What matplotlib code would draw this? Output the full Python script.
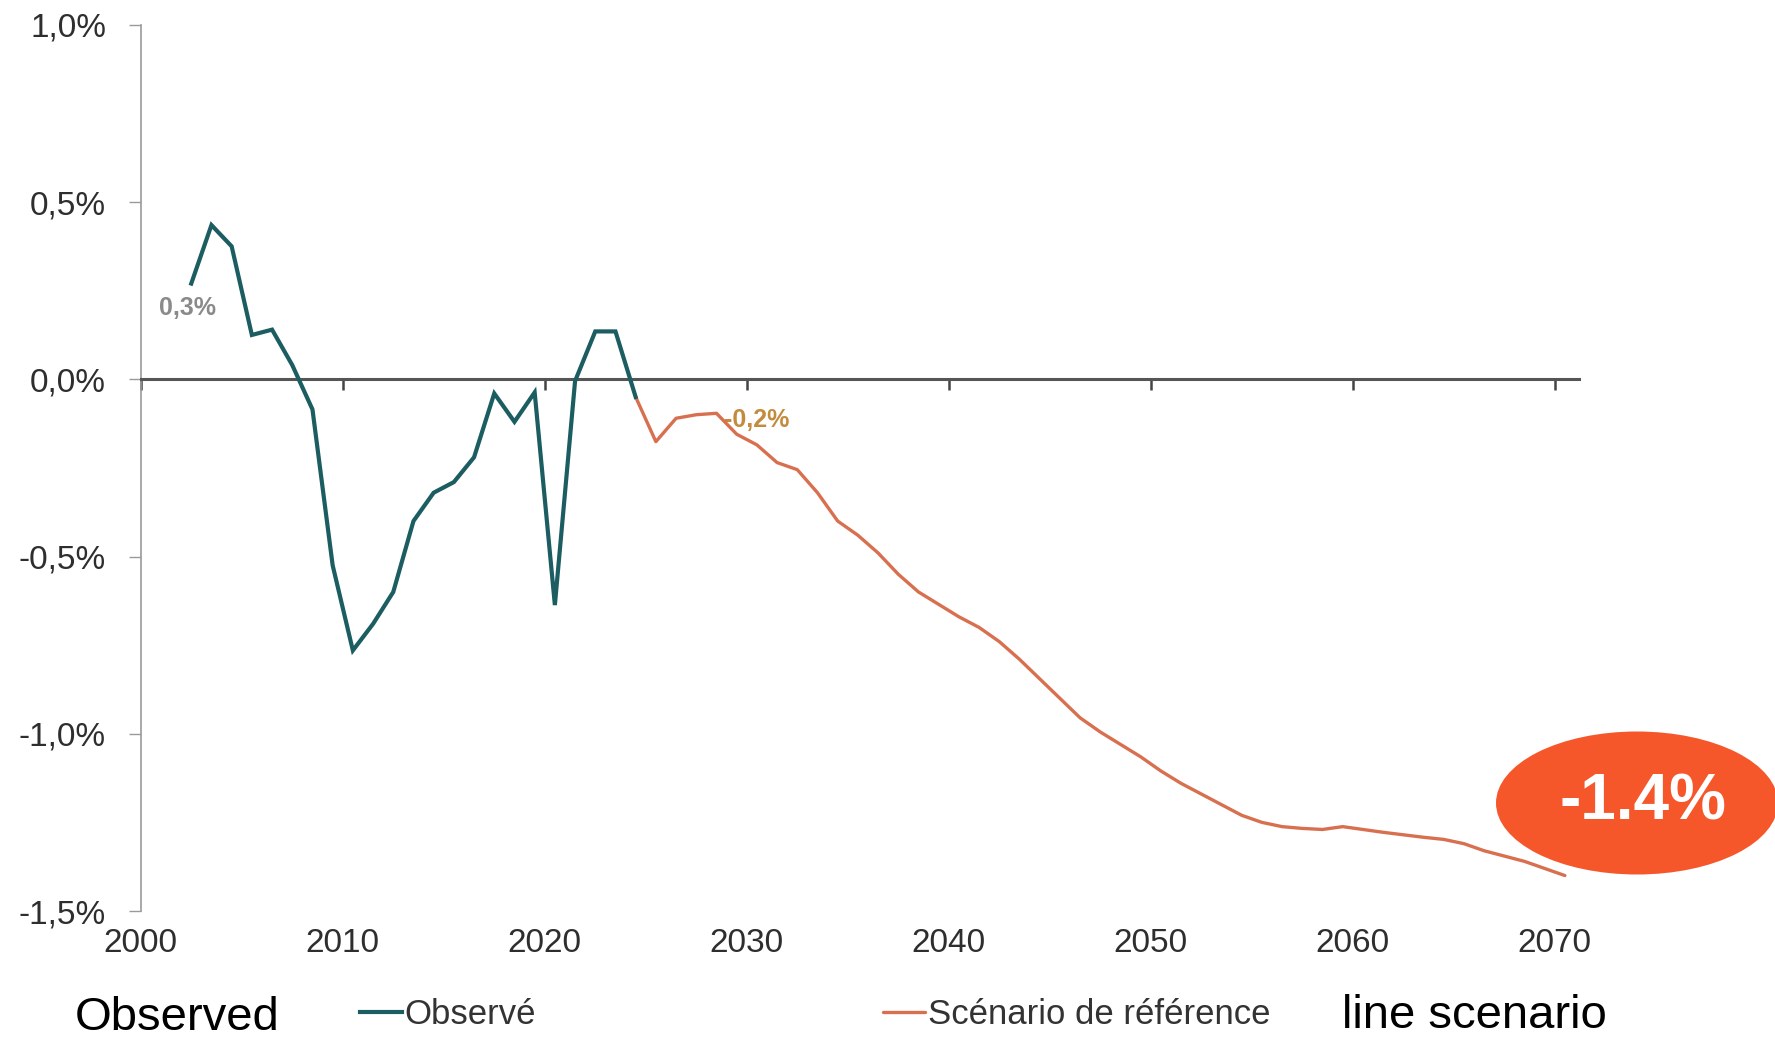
import numpy as np
import matplotlib
matplotlib.use('Agg')
import matplotlib.pyplot as plt
from matplotlib.patches import Ellipse

plt.rcParams['font.family'] = ['Liberation Sans', 'DejaVu Sans']

# observed series (annual change, %), points sit at mid-year
obs_years = np.arange(2002, 2025)
obs_values = [0.27, 0.435, 0.375, 0.125, 0.14, 0.04, -0.085, -0.525, -0.765, -0.69,
              -0.60, -0.40, -0.32, -0.29, -0.22, -0.04, -0.12, -0.037, -0.637, -0.005,
              0.135, 0.135, -0.05]

# reference scenario
ref_years = np.arange(2024, 2071)
ref_values = [-0.05, -0.176, -0.11, -0.10, -0.096, -0.155, -0.185, -0.235, -0.255, -0.32,
              -0.40, -0.44, -0.49, -0.55, -0.60, -0.635, -0.67, -0.70, -0.74, -0.79,
              -0.845, -0.90, -0.955, -0.995, -1.03, -1.065, -1.105, -1.14, -1.17, -1.20,
              -1.23, -1.25, -1.262, -1.267, -1.27, -1.262, -1.27, -1.278, -1.285, -1.292,
              -1.298, -1.31, -1.33, -1.345, -1.36, -1.38, -1.40]

x_ticks = [2000, 2010, 2020, 2030, 2040, 2050, 2060, 2070]
y_ticks = [1.0, 0.5, 0.0, -0.5, -1.0, -1.5]
y_labels = ['1,0%', '0,5%', '0,0%', '-0,5%', '-1,0%', '-1,5%']

teal = '#1b5d61'
orange = '#d8704f'

fig = plt.figure(figsize=(17.75, 10.37), dpi=100)
ax = fig.add_axes([0.0793, 0.1215, 0.8103, 0.8546])

ax.plot(ref_years + 0.5, ref_values, color=orange, lw=2.4, solid_capstyle='round',
        label='Scénario de référence', zorder=3)
ax.plot(obs_years + 0.5, obs_values, color=teal, lw=3.0, solid_joinstyle='miter',
        label='Observé', zorder=4)

ax.set_xlim(2000, 2071.2)
ax.set_ylim(-1.5, 1.0)

# zero line carries the year ticks, labels sit at the bottom
ax.spines['top'].set_visible(False)
ax.spines['right'].set_visible(False)
ax.spines['bottom'].set_position(('data', 0))
ax.spines['bottom'].set_color('#555555')
ax.spines['bottom'].set_linewidth(2.2)
ax.spines['left'].set_color('#9a9a9a')
ax.spines['left'].set_linewidth(1.2)
ax.set_xticks(x_ticks)
ax.tick_params(axis='x', direction='out', length=8, width=1.8, color='#444444',
               labelbottom=False)
ax.set_yticks(y_ticks)
ax.set_yticklabels(y_labels)
ax.tick_params(axis='y', direction='out', length=9, width=1.0, color='#9a9a9a',
               pad=16, labelsize=24, labelcolor='#2e2e2e')

sec = ax.secondary_xaxis('bottom')
sec.set_xticks(x_ticks)
sec.set_xticklabels([str(t) for t in x_ticks])
sec.spines['bottom'].set_visible(False)
sec.tick_params(length=0, pad=12, labelsize=24, labelcolor='#2e2e2e')

# point labels
ax.text(2002.3, 0.20, '0,3%', ha='center', va='center',
        fontsize=18, fontweight='bold', color='#8a8a8a')
ax.text(2030.5, -0.114, '-0,2%', ha='center', va='center',
        fontsize=18, fontweight='bold', color='#c38b3e', zorder=2)

# legend
fig.legend(handles=ax.lines[::-1], loc='center left', bbox_to_anchor=(0.203, 0.022),
           ncol=2, frameon=False, fontsize=25, handlelength=1.2, handletextpad=0.08,
           columnspacing=10.0, borderpad=0, borderaxespad=0, labelcolor='#333333')

# side captions
fig.text(75 / 1775, 0.007, 'Observed', fontsize=34, color='black', ha='left',
         va='baseline')
fig.text(1342 / 1775, 0.009, 'line scenario', fontsize=34, color='black', ha='left',
         va='baseline')

# highlight bubble
bubble = Ellipse((1637 / 1775, 1 - 803 / 1037), 282 / 1775, 143 / 1037,
                 transform=fig.transFigure, facecolor='#f5572a', edgecolor='none',
                 zorder=5)
fig.patches.append(bubble)
fig.text(1643 / 1775, 1 - 803 / 1037, '-1.4%', fontsize=46, fontweight='bold',
         color='white', ha='center', va='center', zorder=6)

fig.savefig('out.png', dpi=100)
